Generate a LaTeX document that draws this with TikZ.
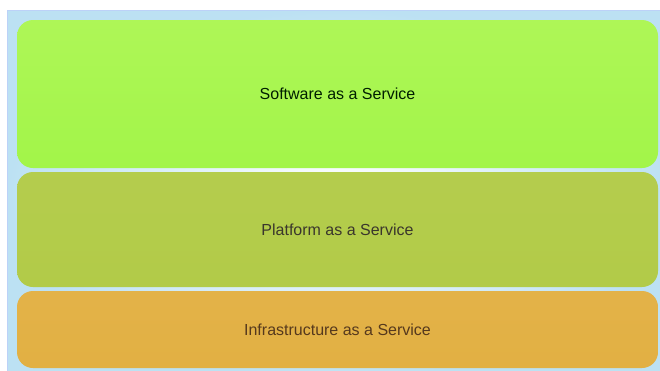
\documentclass[tikz,border=0pt]{standalone}
\usepackage{fontspec}
\setmainfont{Liberation Sans}
\usepackage{tikz}
\usetikzlibrary{positioning}

\definecolor{saasgreen}{HTML}{A9F54C}
\definecolor{paasolive}{HTML}{B2CB48}
\definecolor{iaasorange}{HTML}{E2B043}
\definecolor{framebg}{HTML}{BCE1F3}

\begin{document}
\begin{tikzpicture}[
    x=1pt,
    y=-1pt,
    mylayer/.style={
      rectangle,
      rounded corners=16pt,
      inner sep=0pt,
      outer sep=0pt,
      minimum width=641pt,
      font=\fontsize{16}{19}\selectfont
    },
    node distance=4pt
    ]
    \useasboundingbox (0,0) rectangle (660,370);
    \fill[white] (0,0) rectangle (660,370);
    \shade[inner color=white,outer color=framebg] (7,10) rectangle (670,380);
    \draw[framebg!85!blue!70,line width=1pt] (7,380) -- (7,10.5) -- (670,10.5);
    
    \node[mylayer,minimum height=148pt,
      top color=saasgreen!94!white,bottom color=saasgreen!96!green,
      text=green!12!black] (saas) at (337.5,94) {Software as a Service};
    \node[mylayer,minimum height=115pt,below=of saas,
      top color=paasolive!97!white,bottom color=paasolive,
      text=olive!22!black] (paas) {Platform as a Service};
    \node[mylayer,minimum height=77pt,below=of paas,
      top color=iaasorange!97!white,bottom color=iaasorange,
      text=brown!45!black] (iaas) {Infrastructure as a Service};
    
    \end{tikzpicture}
\end{document}
